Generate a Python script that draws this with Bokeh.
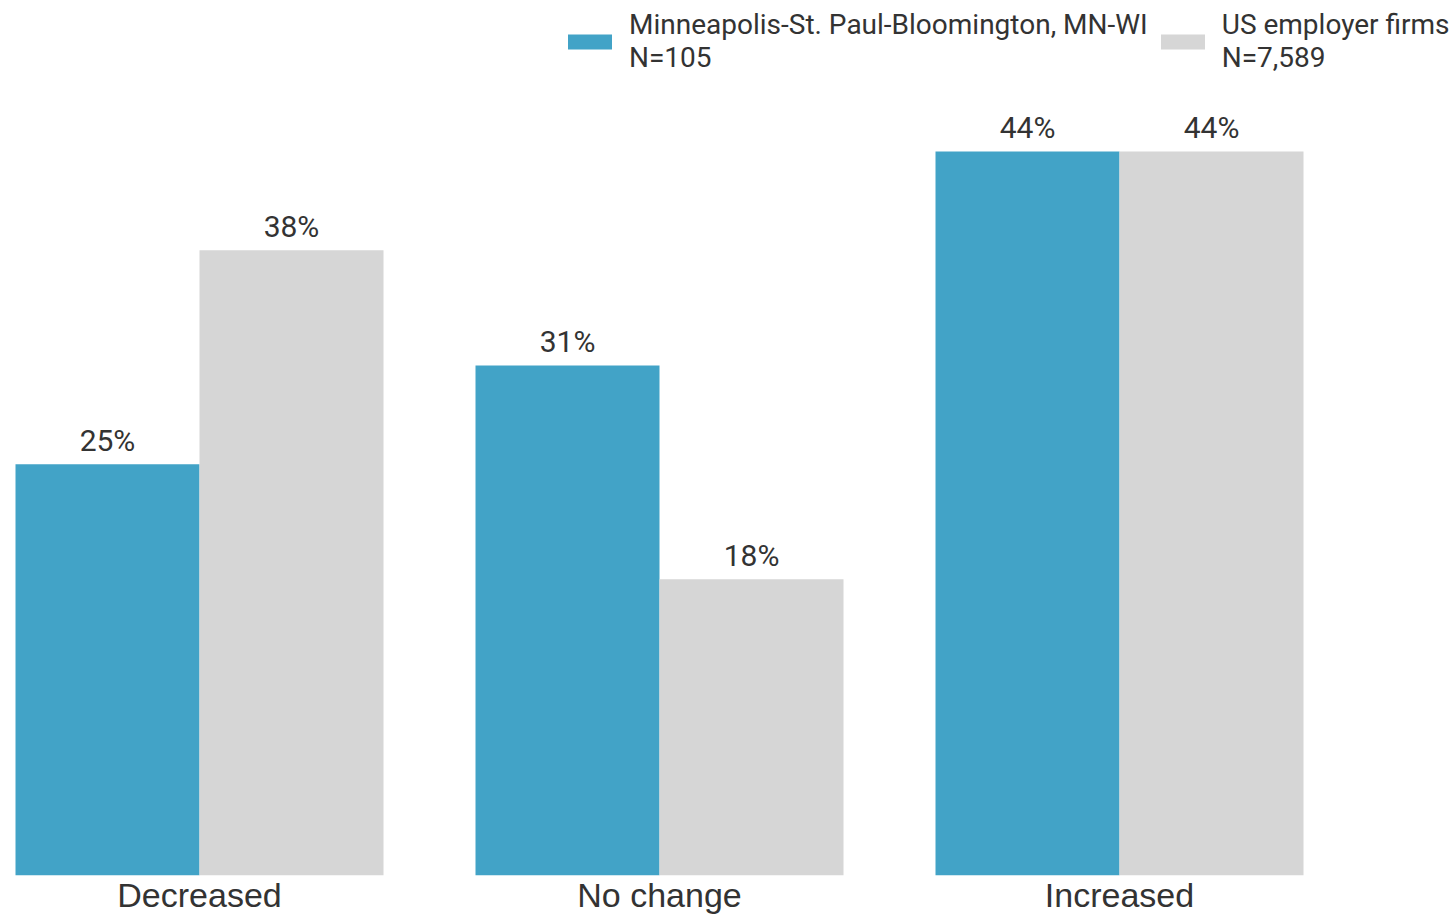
from bokeh.plotting import figure
from bokeh.models import ColumnDataSource, Range1d, FixedTicker, Legend, LegendItem
from bokeh.core.properties import value
from bokeh.embed import file_html
from bokeh.resources import INLINE

categories = ["Decreased", "No change", "Increased"]
metro_values = [25, 31, 44]
us_values = [38, 18, 44]
series_names = ["Minneapolis-St. Paul-Bloomington, MN-WI\nN=105", "US employer firms\nN=7,589"]

BLUE = "#42A3C7"
GREY = "#D6D6D6"
TEXT = "#333333"

xs = list(range(len(categories)))
src_metro = ColumnDataSource(dict(x=[i - 0.2 for i in xs], top=metro_values,
                                  lbl=[f"{v}%" for v in metro_values]))
src_us = ColumnDataSource(dict(x=[i + 0.2 for i in xs], top=us_values,
                               lbl=[f"{v}%" for v in us_values]))

W, H = 1455, 916
p = figure(width=W, height=H, output_backend="svg", toolbar_location=None,
           x_range=Range1d(-0.43261, 2.73043), y_range=Range1d(0, 53.18),
           min_border_left=0, min_border_right=0, min_border_top=0, min_border_bottom=0)
p.outline_line_color = None
p.xgrid.grid_line_color = None
p.ygrid.grid_line_color = None
p.yaxis.visible = False

r1 = p.vbar(x="x", top="top", width=0.4, source=src_metro, fill_color=BLUE, line_color=None)
r2 = p.vbar(x="x", top="top", width=0.4, source=src_us, fill_color=GREY, line_color=None)

for s in (src_metro, src_us):
    p.text(x="x", y="top", text="lbl", source=s, text_align="center",
           text_baseline="alphabetic", y_offset=-24, text_font=value("Roboto"),
           text_font_size="30px", text_color=TEXT)

ax = p.xaxis[0]
ax.ticker = FixedTicker(ticks=xs)
ax.major_label_overrides = {i: c for i, c in enumerate(categories)}
ax.axis_line_color = None
ax.major_tick_line_color = None
ax.minor_tick_line_color = None
ax.major_tick_out = 0
ax.major_tick_in = 0
ax.minor_tick_out = 0
ax.minor_tick_in = 0
ax.major_label_text_font = "Liberation Sans"
ax.major_label_text_font_size = "34px"
ax.major_label_text_color = TEXT
ax.major_label_standoff = 0

legend = Legend(items=[LegendItem(label=series_names[0], renderers=[r1]),
                       LegendItem(label=series_names[1], renderers=[r2])],
                orientation="horizontal", location=(562, 801),
                glyph_width=55, glyph_height=19, label_standoff=12, spacing=7,
                padding=0, margin=0, border_line_alpha=0, background_fill_alpha=0,
                label_text_font="Roboto", label_text_font_size="28px",
                label_text_color=TEXT, label_text_line_height=1.07)
p.add_layout(legend)

open("out.html", "w").write(file_html(p, INLINE))
